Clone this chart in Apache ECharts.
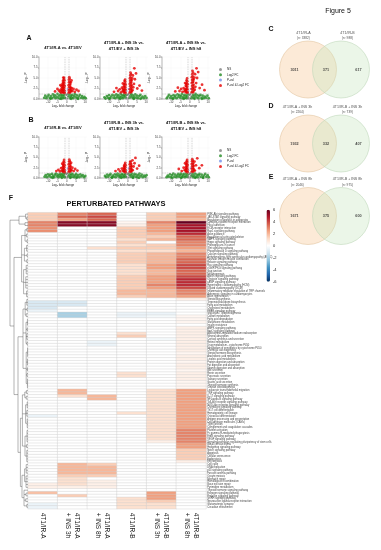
<!DOCTYPE html>
<html><head><meta charset="utf-8">
<script src="https://cdn.jsdelivr.net/npm/echarts@6/dist/echarts.min.js"></script>
<style>html,body{margin:0;padding:0;background:#fff}#c{width:381px;height:550px}</style>
</head><body><div id="c"></div>
<script>
// ---------------- DATA ----------------
const volcanoTitles = ['4T1/IR-A vs. 4T1/EV','4T1/IR-A + INS 3h vs.\n4T1/EV + INS 3h','4T1/IR-A + INS 8h vs.\n4T1/EV + INS h8',
                       '4T1/IR-B vs. 4T1/EV','4T1/IR-B + INS 3h vs.\n4T1/EV + INS 3h','4T1/IR-B + INS 8h vs.\n4T1/EV + INS h8'];
const volcanoCats = ['NS','Log2 FC','P-val','P-val & Log2 FC'];
const xTickValues = [-10,-5,0,5,10];

const a1Red = [[-1.1,1.4],[-1.4,1.6],[-1.8,1.5],[-2.3,1.7],[-1.2,2.0],[-1.6,2.1],[-2.0,2.2],[-2.6,2.0],[-1.3,2.6],[-1.7,2.7],[-2.1,2.8],[-2.5,2.5],[-1.1,3.1],[-1.5,3.3],[-1.9,3.2],[-2.3,3.4],[-1.3,3.8],[-1.7,3.9],[-2.1,3.7],[-1.2,4.4],[-1.6,4.6],[-2.0,4.3],[-1.4,5.0],[-1.8,5.1],[-2.8,3.0],[-3.2,2.2],[-3.6,1.7],[-2.9,1.5],[-4.2,2.0],[-5.0,2.4],[-6.3,1.8],[-3.4,3.3],
  [1.1,1.5],[1.4,1.7],[1.8,1.5],[2.2,1.8],[1.2,2.1],[1.6,2.3],[2.0,2.2],[2.5,2.0],[1.3,2.8],[1.7,2.9],[2.1,2.7],[1.1,3.3],[1.5,3.5],[1.9,3.4],[1.3,4.0],[1.7,4.1],[2.2,3.9],[1.2,4.6],[1.6,4.8],[1.4,5.2],[2.7,2.6],[3.1,1.9],[3.7,2.4],[4.4,1.7],[5.3,2.2],[6.4,1.9],[2.6,4.4]];
const a2Red = [[-1.1,1.4],[-1.4,1.7],[-1.8,1.5],[-2.2,1.8],[-1.2,2.2],[-1.6,2.3],[-2.0,2.1],[-2.5,2.4],[-1.3,2.8],[-1.7,2.9],[-2.1,3.0],[-1.1,3.4],[-1.5,3.6],[-1.9,3.5],[-1.3,4.1],[-1.7,4.3],[-1.4,4.6],[-2.7,1.9],[-3.1,2.7],[-3.6,1.6],[-4.3,2.3],[-5.2,1.9],[-6.1,2.6],[-7.4,1.7],[-2.6,3.7],
  [1.1,1.5],[1.4,1.8],[1.8,1.6],[2.2,1.9],[1.2,2.3],[1.6,2.4],[2.0,2.6],[1.3,3.0],[1.7,3.1],[2.1,3.3],[1.1,3.6],[1.5,3.8],[1.9,3.9],[1.3,4.3],[1.7,4.5],[2.1,4.4],[1.2,4.9],[1.6,5.1],[1.4,5.6],[1.8,5.9],[1.5,6.3],[2.6,2.1],[3.0,2.8],[3.4,3.6],[3.9,4.7],[4.5,6.1],[3.6,7.3],[5.2,2.5],[6.4,3.2],[7.7,2.0],[2.8,5.6],[2.5,4.9]];
const a3Red = [[-1.1,1.5],[-1.4,1.7],[-1.8,1.5],[-2.2,1.9],[-1.2,2.3],[-1.6,2.4],[-2.0,2.2],[-2.6,2.3],[-1.3,2.9],[-1.7,3.0],[-2.1,3.1],[-1.1,3.5],[-1.5,3.7],[-1.9,3.6],[-1.3,4.2],[-1.7,4.4],[-1.4,4.9],[-2.8,1.8],[-3.3,2.6],[-3.9,1.7],[-4.6,2.4],[-5.5,1.9],[-6.4,2.7],[-7.8,1.8],[-2.5,3.8],
  [1.1,1.6],[1.4,1.8],[1.8,1.6],[2.2,2.0],[1.2,2.4],[1.6,2.5],[2.0,2.7],[1.3,3.1],[1.7,3.2],[2.1,3.4],[1.1,3.8],[1.5,4.0],[1.9,4.1],[1.3,4.5],[1.7,4.7],[2.1,4.6],[1.2,5.2],[1.6,5.4],[1.4,5.9],[1.8,6.3],[1.5,6.7],[2.7,2.2],[3.1,2.9],[3.5,3.8],[4.0,5.0],[4.6,6.4],[3.7,7.3],[5.4,2.6],[6.7,3.4],[8.0,2.1],[2.9,5.9],[2.6,5.1]];
const b1Red = [[-1.1,1.4],[-1.4,1.6],[-1.8,1.5],[-2.2,1.7],[-1.2,2.0],[-1.6,2.2],[-2.0,2.1],[-1.3,2.6],[-1.7,2.8],[-2.1,2.6],[-1.1,3.1],[-1.5,3.3],[-1.9,3.2],[-1.3,3.8],[-1.7,3.9],[-1.4,4.4],[-2.6,1.8],[-3.0,2.4],[-3.7,1.6],[-4.5,2.0],[-5.6,1.7],[-2.4,3.5],
  [1.1,1.5],[1.4,1.7],[1.8,1.5],[2.2,1.8],[1.2,2.1],[1.6,2.3],[2.0,2.2],[1.3,2.7],[1.7,2.9],[2.1,2.8],[1.1,3.3],[1.5,3.5],[1.9,3.4],[1.3,4.0],[1.7,4.1],[1.4,4.5],[2.6,1.9],[3.1,2.5],[3.8,1.7],[4.6,2.2],[5.8,1.8],[2.4,3.7]];
const b2Red = [[-1.1,1.4],[-1.4,1.6],[-1.8,1.5],[-2.2,1.7],[-1.2,2.0],[-1.6,2.2],[-2.0,2.1],[-1.3,2.6],[-1.7,2.8],[-2.1,2.5],[-1.1,3.1],[-1.5,3.3],[-1.9,3.0],[-1.3,3.7],[-2.6,1.8],[-3.2,2.3],[-4.1,1.6],[-5.0,2.1],[-6.6,1.7],
  [1.1,1.5],[1.4,1.7],[1.8,1.5],[2.2,1.8],[1.2,2.1],[1.6,2.3],[2.0,2.2],[1.3,2.7],[1.7,2.9],[2.1,2.8],[1.1,3.3],[1.5,3.5],[1.9,3.4],[1.3,3.9],[1.6,4.0],[2.7,1.9],[3.2,2.8],[3.7,3.6],[4.2,4.9],[5.1,2.3],[6.2,3.0],[2.6,4.3]];
const b3Red = [[-1.1,1.4],[-1.4,1.6],[-1.8,1.5],[-2.2,1.8],[-1.2,2.1],[-1.6,2.3],[-2.0,2.2],[-1.3,2.7],[-1.7,2.9],[-2.1,2.6],[-1.1,3.2],[-1.5,3.4],[-1.9,3.3],[-1.3,3.9],[-1.7,4.0],[-1.4,4.4],[-2.7,1.9],[-3.3,2.5],[-4.3,1.7],[-5.9,2.2],[-2.5,3.6],
  [1.1,1.5],[1.4,1.7],[1.8,1.5],[2.2,1.9],[1.2,2.2],[1.6,2.4],[2.0,2.3],[1.3,2.8],[1.7,3.0],[2.1,2.9],[1.1,3.4],[1.5,3.6],[1.9,3.5],[1.3,4.1],[1.7,4.2],[1.4,4.6],[2.8,1.8],[3.4,3.1],[4.1,4.8],[5.2,2.4],[6.6,3.1],[2.6,4.0]];
const a1Green = [[-12.2,0.3],[-11.6,0.8],[-11.0,0.2],[-10.4,0.6],[-9.8,1.0],[-9.2,0.3],[-8.6,0.7],[-8.0,0.2],[-7.5,1.1],[-7.0,0.5],[-6.5,0.9],[-6.0,0.2],[-5.5,0.6],[-5.0,1.2],[-4.6,0.3],[-4.1,0.8],[-3.7,0.1],[-3.3,1.1],[-2.9,0.5],[-2.5,0.9],[-2.1,0.2],[-1.7,0.7],[-1.3,1.1],[-1.1,0.3],
  [1.1,0.6],[1.4,1.1],[1.8,0.2],[2.2,0.8],[2.6,0.4],[3.0,1.0],[3.5,0.2],[3.9,0.7],[4.4,1.2],[4.9,0.4],[5.4,0.9],[5.9,0.2],[6.5,0.6],[7.1,1.0],[7.7,0.3],[8.3,0.7],[8.9,0.2],[9.6,0.5],[10.3,0.2],[-8.8,0.05],[-3.0,0.05],[2.4,0.05],[6.2,0.05]];
const a2Green = [[-12.6,0.4],[-12.0,0.1],[-11.3,0.7],[-10.7,0.3],[-10.1,0.9],[-9.5,0.2],[-8.9,0.6],[-8.3,1.0],[-7.7,0.3],[-7.2,0.8],[-6.7,0.2],[-6.2,1.1],[-5.7,0.5],[-5.2,0.9],[-4.8,0.2],[-4.3,0.6],[-3.9,1.2],[-3.4,0.4],[-3.0,0.9],[-2.6,0.2],[-2.2,0.7],[-1.8,1.1],[-1.4,0.4],[-1.1,0.9],
  [1.1,0.3],[1.5,0.8],[1.9,1.2],[2.3,0.4],[2.7,0.9],[3.2,0.2],[3.6,0.6],[4.1,1.1],[4.6,0.3],[5.1,0.8],[5.7,0.2],[6.3,0.7],[6.9,1.0],[7.5,0.3],[8.1,0.6],[8.8,0.2],[9.5,0.7],[10.2,0.3],[-9.9,0.05],[-4.0,0.05],[3.3,0.05],[7.0,0.05]];
const a3Green = [[-12.4,0.2],[-11.8,0.6],[-11.2,1.0],[-10.6,0.3],[-10.0,0.7],[-9.4,0.2],[-8.8,0.9],[-8.2,0.4],[-7.7,0.8],[-7.1,0.2],[-6.6,1.1],[-6.1,0.5],[-5.6,0.9],[-5.1,0.3],[-4.7,0.7],[-4.2,1.2],[-3.8,0.2],[-3.4,0.6],[-2.9,1.0],[-2.5,0.3],[-2.1,0.8],[-1.7,0.2],[-1.3,0.6],[-1.1,1.1],
  [1.1,0.2],[1.5,0.6],[1.9,1.0],[2.3,0.3],[2.8,0.8],[3.2,1.2],[3.7,0.4],[4.2,0.9],[4.7,0.2],[5.2,0.7],[5.8,1.0],[6.4,0.3],[7.0,0.8],[7.6,0.2],[8.2,0.6],[8.9,0.3],[9.6,0.8],[10.3,0.2],[-9.0,0.05],[-3.2,0.05],[2.6,0.05],[6.6,0.05]];
const b1Green = [[-12.0,0.3],[-11.4,0.7],[-10.8,0.2],[-10.2,0.9],[-9.6,0.4],[-9.0,0.8],[-8.4,0.2],[-7.9,1.0],[-7.3,0.5],[-6.8,0.2],[-6.3,0.8],[-5.8,1.1],[-5.3,0.4],[-4.8,0.8],[-4.4,0.2],[-3.9,0.6],[-3.5,1.0],[-3.1,0.3],[-2.7,0.7],[-2.3,1.1],[-1.9,0.4],[-1.5,0.8],[-1.2,0.2],[-1.1,1.2],
  [1.1,0.4],[1.5,0.9],[1.9,0.2],[2.3,0.7],[2.7,1.1],[3.1,0.3],[3.6,0.8],[4.1,0.2],[4.6,0.6],[5.1,1.0],[5.6,0.3],[6.2,0.7],[6.8,0.2],[7.4,0.9],[8.0,0.4],[8.7,0.7],[9.4,0.2],[10.1,0.5],[-7.6,0.05],[-2.6,0.05],[2.0,0.05],[5.4,0.05]];
const b2Green = [[-12.3,0.5],[-11.7,0.2],[-11.1,0.8],[-10.5,0.3],[-9.9,0.7],[-9.3,1.0],[-8.7,0.2],[-8.1,0.6],[-7.6,0.3],[-7.0,0.9],[-6.5,0.2],[-6.0,0.7],[-5.5,1.1],[-5.0,0.4],[-4.5,0.8],[-4.1,0.2],[-3.6,0.6],[-3.2,1.0],[-2.8,0.3],[-2.4,0.8],[-2.0,0.2],[-1.6,0.6],[-1.3,1.0],[-1.1,0.3],
  [1.1,0.8],[1.5,0.3],[1.9,0.7],[2.3,1.1],[2.7,0.2],[3.2,0.6],[3.7,1.0],[4.2,0.3],[4.7,0.8],[5.2,0.2],[5.8,0.7],[6.4,1.1],[7.0,0.4],[7.6,0.8],[8.2,0.2],[8.9,0.6],[9.6,0.3],[10.2,0.7],[-8.5,0.05],[-3.4,0.05],[2.9,0.05],[6.1,0.05]];
const b3Green = [[-12.5,0.2],[-11.9,0.6],[-11.3,0.3],[-10.7,0.9],[-10.1,0.2],[-9.5,0.7],[-8.9,1.1],[-8.3,0.3],[-7.8,0.8],[-7.2,0.2],[-6.7,0.6],[-6.2,1.0],[-5.7,0.3],[-5.2,0.7],[-4.8,1.1],[-4.3,0.2],[-3.9,0.8],[-3.5,0.4],[-3.0,1.0],[-2.6,0.2],[-2.2,0.6],[-1.8,1.1],[-1.4,0.3],[-1.1,0.8],
  [1.1,0.5],[1.5,1.0],[1.9,0.2],[2.3,0.6],[2.8,1.1],[3.3,0.3],[3.8,0.8],[4.3,0.2],[4.8,0.7],[5.3,1.0],[5.9,0.3],[6.5,0.8],[7.1,0.2],[7.7,0.6],[8.4,1.0],[9.0,0.3],[9.7,0.7],[10.3,0.2],[-9.4,0.05],[-4.6,0.05],[3.0,0.05],[7.3,0.05]];
const nsPoints = [[-0.6,0.4],[-0.2,0.9],[0.3,0.2],[0.7,0.7],[0.1,1.1],[-0.8,0.1],[0.5,1.2]];
const pvalPoints = [[-0.5,1.9],[0.4,2.4]];
const volcanoRed = [a1Red,a2Red,a3Red,b1Red,b2Red,b3Red];
const volcanoGreen = [a1Green,a2Green,a3Green,b1Green,b2Green,b3Green];

// Venn diagrams
const vennNamesL = ['4T1/IR-A','4T1/IR-A + INS 3h','4T1/IR-A + INS 8h'];
const vennNamesR = ['4T1/IR-B','4T1/IR-B + INS 3h','4T1/IR-B + INS 8h'];
const vennTotalL = [3382, 2264, 2046];
const vennTotalR = [988, 739, 975];
const vennOnlyL = [3011, 1932, 1671];
const vennBoth = [371, 332, 375];
const vennOnlyR = [617, 407, 600];

// Heatmap
const heatCols = ['4T1/IR-A','4T1/IR-A\n+ INS 3h','4T1/IR-A\n+ INS 8h','4T1/IR-B','4T1/IR-B\n+ INS 3h','4T1/IR-B\n+ INS 8h'];
const pathways = ['PI3K-Akt signaling pathway','JAK-STAT signaling pathway','Regulation of lipolysis in adipocytes','Cytokine-cytokine receptor interaction','Focal adhesion','ECM-receptor interaction','Rap1 signaling pathway','Axon guidance','Regulation of actin cytoskeleton','MAPK signaling pathway',
 'Hippo signaling pathway','Proteoglycans in cancer','Wnt signaling pathway','Phospholipase D signaling pathway','Calcium signaling pathway','Arrhythmogenic right ventricular cardiomyopathy (ARVC)','Vascular smooth muscle contraction','Relaxin signaling pathway','Ras signaling pathway','cGMP-PKG signaling pathway',
 'Gap junction','Melanogenesis','Apelin signaling pathway','Oxytocin signaling pathway','cAMP signaling pathway','Hypertrophic cardiomyopathy (HCM)','Dilated cardiomyopathy (DCM)','Inflammatory mediator regulation of TRP channels','Adrenergic signaling in cardiomyocytes','Axon regeneration',
 'Steroid biosynthesis','Terpenoid backbone biosynthesis','Fatty acid metabolism','Cholesterol metabolism','PPAR signaling pathway','Glycolysis / Gluconeogenesis','Carbon metabolism','Fatty acid degradation','Glutathione metabolism','Insulin resistance',
 'AMPK signaling pathway','FoxO signaling pathway','Aldosterone-regulated sodium reabsorption','Mineral absorption','Cortisol synthesis and secretion','Retinol metabolism','Drug metabolism - cytochrome P450','Metabolism of xenobiotics by cytochrome P450','Chemical carcinogenesis','Steroid hormone biosynthesis',
 'Arachidonic acid metabolism','Linoleic acid metabolism','Protein digestion and absorption','Fat digestion and absorption','Vitamin digestion and absorption','Bile secretion','Renin secretion','Pancreatic secretion','Salivary secretion','Gastric acid secretion',
 'Thyroid hormone synthesis','Ovarian steroidogenesis','Leukocyte transendothelial migration','TNF signaling pathway','IL-17 signaling pathway','NF-kappa B signaling pathway','Toll-like receptor signaling pathway','NOD-like receptor signaling pathway','Chemokine signaling pathway','Th17 cell differentiation',
 'Hematopoietic cell lineage','Osteoclast differentiation','Antigen processing and presentation','Cell adhesion molecules (CAMs)','Tight junction','Complement and coagulation cascades','Platelet activation','Fc gamma R-mediated phagocytosis','ErbB signaling pathway','VEGF signaling pathway',
 'Signaling pathways regulating pluripotency of stem cells','Basal cell carcinoma','Hedgehog signaling pathway','Notch signaling pathway','Apoptosis','Cellular senescence','Endocytosis','Efferocytosis','Cell cycle','DNA replication',
 'p53 signaling pathway','Fanconi anemia pathway','Oocyte meiosis','Mismatch repair','Homologous recombination','Base excision repair','Pyrimidine metabolism','Thyroid hormone signaling pathway','Estrogen signaling pathway','Prolactin signaling pathway',
 'GnRH signaling pathway','Neuroactive ligand-receptor interaction','Glutamatergic synapse','Circadian entrainment'];
const valIRA = [1.5,1.5,1.5,3,3,2.8,2.8,0,0,0, 0,0,0,0,0,0,0,0,0,0, 0,0,0,0,0,0,0,0,0,0, 0,-1,-1,-1,-0.5,0,0,0,0,0,
 0,0,0,0,0,0,0,0,0,0, 0,0,0,0,0,0,0,0,0,0, 0,0,0,0,0,0,0,0,0,0, 0,-0.5,0,0,0,0,0,0,0,0, 0,0,0,0,0,0,0,0,0,0, 0,0,0,0,0,0.5,0.5,0,1.8,0, 0,0,-0.5,-0.5];
const valIRA3h = [3,3.5,2.5,5.5,5.5,0,0,0,0,0, 0,0,0,0,0,0,0,0,0,0, 0,0,0,0,0,0,0,0,0,0, 0,-1,-1,0,0,-2,-2,0,0,0,
 0,0,0,0,0,0,0,0,0,0, 0,0,0,0,0,0,0,0,0,0, 0,0,2,2,1,0,0,0,0,0, 0,0,0,0,0,0,0,0,0,0, 0,0,0,0,0,0,0,0,2,2, 2,2,1.5,1,1,1,0.5,0,0,1.5, 0,0,0,0];
const valIRA8h = [3.5,4,3.5,5.5,5.5,0,0,0,0,0, 0,0,1,0,0,0,0,0,0,0, 0,0,0,0,0,0,0,0,0,0, 0,0,0,0,0,0,0,0,0,0,
 0,0,0,0,0,-0.5,-0.5,0,0,0, 0,0,0,0,0,0,0,0,0,0, 0,0,0,0,2,2,0,0,0,0, 0,0,0,0,0,0,0,0,0,0, 0,0,0,0,0,0,0,0,1.5,2, 2,2,1.5,0,0.5,0.5,0.5,0,0,0, 0,0,0,0];
const valIRB = [0,0,0,0.3,0.5,1.5,1.5,1.5,1.5,1, 1.5,1,1.5,1,1.5,1.5,1.5,1.5,1,1, 1,1,1.5,1.5,1.5,1.5,1.5,2,2,1.5, 0,0,0,0,0,-0.5,-0.5,0,0,0,
 0,0,1,1.5,0,0,0,0,0,0, 0,0,0,0,0,0,1,1,0,0, 0,0,0,0,0,0,0,0,0,0, 1,0,0,0,0,0,0,0,0,0, 0,0,0,0,0,0,0,0,0,0, 0,0,0,0,0,0,0,0,0,0, 1,1,1,1];
const valIRB3h = [1.5,1.5,1.5,3,2.5,2.5,2.5,2,1.5,2, 0,1.5,1.5,1,2,2,2,2,2.5,2.5, 2,2,2.5,2.5,2.5,3,2.5,2,2,2, 0,0,0,0,0,-0.5,-0.3,0,0,0,
 0,0,0,0,-0.3,0,0,0,0,0, 0,0,0,0,0,0,0,0,0,0, 0,0,1,1,1,1,1,1,1,1, 1,1,1,1,1,1,1,1,1,1, 0.5,0,0,0,0,0,0,0,0,0, 0,0,0,0,0,0,0,0,2.5,2.5, 2.5,1.5,1,1];
const valIRB8h = [2.5,2.5,2,6,5,5,5,4.5,3.5,3.5, 3,3,2.5,2,3,3,3.5,3.5,4,4, 3.5,3.5,4,4.5,4.5,4.5,4,3,3,2.5, 0.5,0,0,0,0,0,0.3,0.3,0.3,0,
 0.5,0.5,0.5,0.5,0.5,0.5,0.5,0.5,0.5,0.3, 0.5,0.5,0.3,0.5,0.5,0.3,0.5,0.5,0.5,0.3, 0.3,0.3,2.5,2.5,2.5,2.5,2.5,2.5,2.5,2.5, 2.5,2.5,2.5,2.5,2.5,2.5,3,3,3,3,
 3,2.5,2.5,1.5,1.5,1.5,1.5,0.5,0,0, 0,0,0,0,0,0,0,0,0,0, 0,0,0,0];
const heatValues = [valIRA,valIRA3h,valIRA8h,valIRB,valIRB3h,valIRB8h];
const colorbarTicks = [6,4,2,0,-2,-4,-6];

// Row dendrogram: [height, ...children]; a child is a row index or a sub-node
const dendroT1 = [4.5,[1.2,0,[0.6,1,2]],[1.5,3,4]];
const dendroT2 = [3.2,[1.5,[0.6,5,6],[0.8,7,8],[0.5,9,10]],[1.8,[0.7,11,12,13],[0.5,14,15],[0.6,16,17]],[2.2,[0.9,18,19,20,21],[1.1,22,23,24,25,26],[0.7,27,28,29]]];
const dendroT3 = [2.5,[1.4,[0.6,30,31,32],[0.5,33,34],[0.9,35,36]],[1.0,[0.3,37,38,39],[0.4,40,41],[0.6,42,43,44],[0.5,45,46]],[0.9,[0.2,47,48,49,50],[0.3,51,52,53],[0.3,54,55],[0.5,56,57],[0.3,58,59,60,61]]];
const dendroT4 = [2.8,[1.6,[0.8,62,63],[0.9,64,65]],[1.2,[0.4,66,67,68],[0.6,69,70,71],[0.4,72,73,74,75]],[1.5,[0.5,76,77,78,79,80],[0.7,81,82],[0.6,83,84,85,86,87]]];
const dendroT5 = [3.0,[1.7,[0.9,88,89,90,91],[1.0,92,93,94,95,96]],[2.0,97,[1.0,98,99],[1.1,100,101],[0.6,102,103]]];
const dendroRoot = [9,dendroT1,[7,dendroT2,[5,dendroT3,[3.8,dendroT4,dendroT5]]]];

// ---------------- LAYOUT ----------------
const FONT = 'Liberation Sans';
const vGrids = [
  {left:39,top:57,width:48,height:42},{left:100,top:57,width:48,height:42},{left:162,top:57,width:48,height:42},
  {left:39,top:137,width:48,height:41},{left:100,top:137,width:48,height:41},{left:162,top:137,width:48,height:41}];
const vennCenters = [[324.5,69.5],[324.5,143.5],[324.5,216]];
const vennLeftLabelX = [-21,-27,-27];
const HM = {left:28, top:212.7, width:178, height:296};

const grids = [], xAxes = [], yAxes = [], series = [], titles = [];

// volcano plots
vGrids.forEach((g,i)=>{
  grids.push(Object.assign({}, g));
  xAxes.push({type:'value', gridIndex:i, min:-15, max:11, interval:5,
    axisLine:{show:true,onZero:false,lineStyle:{color:'#444',width:0.4}},
    axisTick:{show:true,length:1,customValues:xTickValues,lineStyle:{color:'#444',width:0.4}},
    axisLabel:{fontSize:2.8,margin:1.5,color:'#333',customValues:xTickValues,fontFamily:FONT},
    splitLine:{show:true,lineStyle:{color:'#ededed',width:0.3}},
    name:'Log\u2082 fold change', nameLocation:'middle', nameGap:5.5, nameTextStyle:{fontSize:3,color:'#222',fontFamily:FONT}});
  yAxes.push({type:'value', gridIndex:i, min:0, max:10, interval:2.5,
    axisLine:{show:true,onZero:false,lineStyle:{color:'#444',width:0.4}},
    axisTick:{show:true,length:1,lineStyle:{color:'#444',width:0.4}},
    axisLabel:{fontSize:2.8,margin:1.5,color:'#333',formatter:v=>v.toFixed(1),fontFamily:FONT},
    splitLine:{show:true,lineStyle:{color:'#ededed',width:0.3}},
    name:'-Log\u2081\u2080 P', nameLocation:'middle', nameGap:7, nameRotate:90, nameTextStyle:{fontSize:3,color:'#222',fontFamily:FONT}});
  const common = {type:'scatter', xAxisIndex:i, yAxisIndex:i, silent:true, animation:false};
  series.push(Object.assign({name:'NS', data:nsPoints, symbolSize:1.8, itemStyle:{color:'#555',opacity:0.6}}, common));
  series.push(Object.assign({name:'Log2 FC', data:volcanoGreen[i], symbolSize:2.7, itemStyle:{color:'#228b22',opacity:0.8}}, common));
  series.push(Object.assign({name:'P-val', data:pvalPoints, symbolSize:1.6, itemStyle:{color:'#4169e1',opacity:0.6}}, common));
  series.push(Object.assign({name:'P-val & Log2 FC', data:volcanoRed[i], symbolSize:2.8, itemStyle:{color:'#e60000',opacity:0.8},
    markLine:{silent:true, symbol:'none', label:{show:false}, lineStyle:{color:'#999',type:'dashed',width:0.4},
      data:[{xAxis:-1},{xAxis:1},{yAxis:1.3}]}}, common));
  const cx = g.left + g.width/2;
  const twoLine = volcanoTitles[i].indexOf('\n')>=0;
  const baseTop = i<3 ? 40.5 : 120.5;
  titles.push({text:volcanoTitles[i], left:cx, top: twoLine ? baseTop : baseTop+4.4, textAlign:'center', padding:0,
    textStyle:{fontSize:4, lineHeight:5.6, fontWeight:'bold', color:'#111', fontFamily:FONT}});
});

// Venn diagrams
vennCenters.forEach((c,j)=>{
  const gi = grids.length;
  grids.push({left:c[0]-54, top:c[1]-40, width:108, height:80});
  xAxes.push({type:'value', gridIndex:gi, min:-54, max:54, show:false});
  yAxes.push({type:'value', gridIndex:gi, min:-40, max:40, inverse:true, show:false});
  series.push({type:'scatter', xAxisIndex:gi, yAxisIndex:gi, silent:true, symbolSize:57,
    data:[{value:[-16.5,0], itemStyle:{color:'rgba(247,205,158,0.52)', borderColor:'#e0c29c', borderWidth:0.7}},
          {value:[16.5,0], itemStyle:{color:'rgba(200,230,190,0.45)', borderColor:'#bcd6b8', borderWidth:0.7}}]});
  const counts = [vennOnlyL[j], vennBoth[j], vennOnlyR[j]];
  series.push({type:'scatter', xAxisIndex:gi, yAxisIndex:gi, silent:true, symbolSize:0, z:5,
    data:[[-30,0],[1.5,0],[34,0]].map((p,k)=>({value:p, label:{formatter:String(counts[k])}})),
    label:{show:true, position:'inside', fontSize:3.8, fontWeight:'bold', color:'#222', fontFamily:FONT}});
  series.push({type:'scatter', xAxisIndex:gi, yAxisIndex:gi, silent:true, symbolSize:0, z:5,
    data:[{value:[vennLeftLabelX[j],-37], label:{formatter:vennNamesL[j]}},{value:[23,-37], label:{formatter:vennNamesR[j]}},
          {value:[vennLeftLabelX[j],-31], label:{formatter:'(n: '+vennTotalL[j]+')', fontSize:3.2}},{value:[23,-31], label:{formatter:'(n: '+vennTotalR[j]+')', fontSize:3.2}}],
    label:{show:true, position:'inside', fontSize:3.6, color:'#222', fontFamily:FONT}});
});

// Heatmap
const hmIdx = grids.length;
grids.push({left:HM.left, top:HM.top, width:HM.width, height:HM.height});
xAxes.push({type:'category', gridIndex:hmIdx, data:heatCols, position:'bottom',
  axisLine:{show:false}, axisTick:{show:false}, splitLine:{show:false},
  axisLabel:{rotate:-90, interval:0, fontSize:6.5, lineHeight:9, color:'#222', margin:4, fontFamily:FONT}});
yAxes.push({type:'category', gridIndex:hmIdx, data:pathways, inverse:true, position:'right',
  axisLine:{show:false}, axisTick:{show:false},
  axisLabel:{interval:0, fontSize:2.6, color:'#444', margin:1.2, fontFamily:FONT}});
const hmData = [];
heatValues.forEach((col,ci)=>col.forEach((v,ri)=>hmData.push([ci,ri,v])));
const hmSeriesIndex = series.length;
series.push({type:'heatmap', xAxisIndex:hmIdx, yAxisIndex:hmIdx, data:hmData, silent:true,
  itemStyle:{borderColor:'#cccccc', borderWidth:0.4}, emphasis:{disabled:true}});

// Dendrogram
const dendroNodes = [];
function walk(node){
  if (typeof node === 'number') return {h:0, y:node};
  const kids = node.slice(1).map(walk);
  const y = kids.reduce((s,k)=>s+k.y,0)/kids.length;
  dendroNodes.push({h:node[0], y:y, kids:kids});
  return {h:node[0], y:y};
}
walk(dendroRoot);
const dIdx = grids.length;
grids.push({left:4, top:HM.top, width:HM.left-4, height:HM.height});
xAxes.push({type:'value', gridIndex:dIdx, min:0, max:12, inverse:true, show:false});
yAxes.push({type:'value', gridIndex:dIdx, min:-0.5, max:pathways.length-0.5, inverse:true, show:false});
series.push({type:'custom', xAxisIndex:dIdx, yAxisIndex:dIdx, silent:true, clip:false,
  data:dendroNodes.map(n=>[n.h,n.y]), encode:{x:0,y:1},
  renderItem:function(params, api){
    const n = dendroNodes[params.dataIndex];
    const ys = n.kids.map(k=>k.y);
    const a = api.coord([n.h, Math.min.apply(null,ys)]);
    const b = api.coord([n.h, Math.max.apply(null,ys)]);
    const st = {stroke:'#555', lineWidth:0.45};
    const ch = [{type:'line', shape:{x1:a[0],y1:a[1],x2:b[0],y2:b[1]}, style:st}];
    n.kids.forEach(k=>{
      const p = api.coord([k.h,k.y]), q = api.coord([n.h,k.y]);
      ch.push({type:'line', shape:{x1:p[0],y1:p[1],x2:q[0],y2:q[1]}, style:st});
    });
    return {type:'group', children:ch};
  }});

// Colorbar labels
const cbIdx = grids.length;
grids.push({left:266.5, top:209.7, width:3.5, height:72});
xAxes.push({type:'value', gridIndex:cbIdx, show:false});
yAxes.push({type:'value', gridIndex:cbIdx, min:-6, max:6, interval:2, position:'right',
  axisLine:{show:false}, axisTick:{show:false}, splitLine:{show:false},
  axisLabel:{fontSize:4, color:'#222', margin:3, fontFamily:FONT, customValues:colorbarTicks}});

// Texts
titles.push({text:'Figure 5', left:338, top:8, textAlign:'center', padding:0, textStyle:{fontSize:7, fontWeight:'normal', color:'#111', fontFamily:FONT}});
[['A',29,35],['B',31,117],['C',271,26],['D',271,103],['E',271,174],['F',11,195]].forEach(t=>{
  titles.push({text:t[0], left:t[1], top:t[2], textAlign:'center', padding:0, textStyle:{fontSize:7, fontWeight:'bold', color:'#111', fontFamily:FONT}});
});
titles.push({text:'PERTURBATED PATHWAYS', left:116, top:200, textAlign:'center', padding:0, textStyle:{fontSize:7.5, fontWeight:'bold', color:'#111', fontFamily:FONT}});

const legendBase = {data:volcanoCats, orient:'vertical', left:219, itemWidth:3, itemHeight:3, itemGap:2.3, icon:'circle', padding:0,
  selectedMode:false, textStyle:{fontSize:3, color:'#222', fontFamily:FONT}};

const option = {
  animation:false,
  textStyle:{fontFamily:FONT},
  title:titles,
  legend:[Object.assign({top:68}, legendBase), Object.assign({top:149}, legendBase)],
  grid:grids, xAxis:xAxes, yAxis:yAxes,
  visualMap:{type:'continuous', min:-6, max:6, seriesIndex:hmSeriesIndex, calculable:false, orient:'vertical',
    left:266.5, top:209.7, itemWidth:3.5, itemHeight:72, text:null, showLabel:false, padding:0,
    inRange:{color:['#053061','#2166ac','#4393c3','#92c5de','#d1e5f0','#ffffff','#fddbc7','#f4a582','#d6604d','#b2182b','#67001f']}},
  series:series
};
const chart = echarts.init(document.getElementById('c'));
chart.setOption(option);
</script></body></html>
